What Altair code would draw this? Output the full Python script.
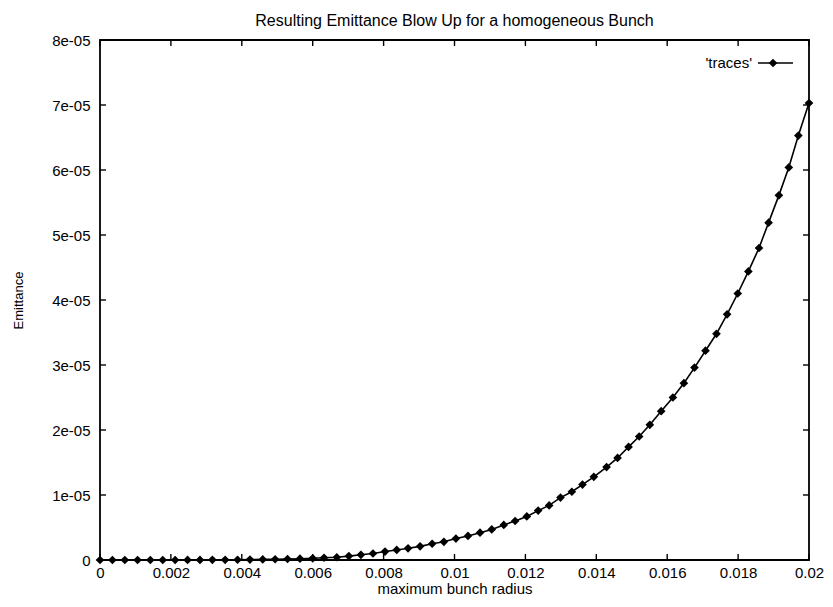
import altair as alt
import pandas as pd

# Maximum bunch radius (m) and resulting emittance
radius = [
    0.0, 0.00035, 0.00070, 0.00106, 0.00142, 0.00177, 0.00212, 0.00247, 0.00282, 0.00317,
    0.00353, 0.00388, 0.00423, 0.00459, 0.00494, 0.00529, 0.00564, 0.00600, 0.00632, 0.00668,
    0.00702, 0.00736, 0.00770, 0.00804, 0.00837, 0.00869, 0.00903, 0.00937, 0.00970, 0.01004,
    0.01038, 0.01072, 0.01105, 0.01139, 0.01171, 0.01204, 0.01236, 0.01267, 0.01299, 0.01331,
    0.01361, 0.01393, 0.01429, 0.01460, 0.01491, 0.01521, 0.01551, 0.01583, 0.01616, 0.01647,
    0.01677, 0.01708, 0.01739, 0.01769, 0.01799, 0.01829, 0.01859, 0.01886, 0.01915, 0.01943,
    0.01970, 0.02000,
]
emittance = [
    0.0, 0.0, 2e-10, 5e-10, 1e-9, 2e-9, 4e-9, 7e-9, 1.2e-8, 2e-8,
    3e-8, 4e-8, 6e-8, 9e-8, 1.2e-7, 1.6e-7, 2e-7, 2.6e-7, 3.4e-7, 4.3e-7,
    6e-7, 8e-7, 1.0e-6, 1.3e-6, 1.55e-6, 1.8e-6, 2.1e-6, 2.5e-6, 2.8e-6, 3.3e-6,
    3.7e-6, 4.2e-6, 4.7e-6, 5.4e-6, 6.0e-6, 6.7e-6, 7.6e-6, 8.4e-6, 9.6e-6, 1.05e-5,
    1.16e-5, 1.28e-5, 1.43e-5, 1.57e-5, 1.74e-5, 1.90e-5, 2.08e-5, 2.29e-5, 2.50e-5, 2.72e-5,
    2.96e-5, 3.22e-5, 3.48e-5, 3.78e-5, 4.10e-5, 4.44e-5, 4.80e-5, 5.19e-5, 5.61e-5, 6.04e-5,
    6.53e-5, 7.03e-5,
]
x_ticks = [0.0, 0.002, 0.004, 0.006, 0.008, 0.01, 0.012, 0.014, 0.016, 0.018, 0.02]
y_ticks = [0.0, 1e-05, 2e-05, 3e-05, 4e-05, 5e-05, 6e-05, 7e-05, 8e-05]
series_name = ["'traces'"]

W, H = 709, 520
FONT = "Liberation Sans"

df = pd.DataFrame({"r": radius, "eps": emittance})
xt = pd.DataFrame({"t": x_ticks})
yt = pd.DataFrame({"t": y_ticks})
leg = pd.DataFrame({"name": series_name})

x_scale = alt.Scale(domain=[0, 0.02], nice=False, zero=False)
y_scale = alt.Scale(domain=[0, 8e-05], nice=False, zero=False)

base = alt.Chart(df)

curve = base.mark_line(color="black", strokeWidth=1.6).encode(
    x=alt.X("r:Q", scale=x_scale,
            axis=alt.Axis(values=x_ticks, format=".3~f", title="maximum bunch radius",
                          ticks=False, domain=False, grid=False,
                          labelFont=FONT, labelFontSize=15, labelColor="black",
                          labelPadding=5, labelFlush=False,
                          titleFont=FONT, titleFontSize=15, titleFontWeight="normal",
                          titleColor="black", titlePadding=1)),
    y=alt.Y("eps:Q", scale=y_scale,
            axis=alt.Axis(values=y_ticks,
                          labelExpr="datum.value == 0 ? '0' : replace(format(datum.value, '.0e'), 'e-', 'e-0')",
                          title="Emittance", ticks=False, domain=False, grid=False,
                          labelFont=FONT, labelFontSize=15, labelColor="black",
                          labelPadding=10, labelFlush=False,
                          titleFont=FONT, titleFontSize=13, titleFontWeight="normal",
                          titleColor="black", titlePadding=26)),
)

points = base.mark_point(shape="diamond", filled=True, color="black", size=75, opacity=1).encode(
    x=alt.X("r:Q", scale=x_scale), y=alt.Y("eps:Q", scale=y_scale)
)

# Inward ticks on all four sides of the frame
tick_len = 6
bottom_ticks = alt.Chart(xt).mark_rule(color="black", strokeWidth=1.4).encode(
    x=alt.X("t:Q", scale=x_scale), y=alt.value(H), y2=alt.value(H - tick_len))
top_ticks = alt.Chart(xt).mark_rule(color="black", strokeWidth=1.4).encode(
    x=alt.X("t:Q", scale=x_scale), y=alt.value(0), y2=alt.value(tick_len))
left_ticks = alt.Chart(yt).mark_rule(color="black", strokeWidth=1.4).encode(
    y=alt.Y("t:Q", scale=y_scale), x=alt.value(0), x2=alt.value(tick_len))
right_ticks = alt.Chart(yt).mark_rule(color="black", strokeWidth=1.4).encode(
    y=alt.Y("t:Q", scale=y_scale), x=alt.value(W), x2=alt.value(W - tick_len))

# Key in the upper right corner: label, then line sample with a diamond
leg_text = alt.Chart(leg).mark_text(align="right", baseline="middle", font=FONT,
                                    fontSize=15, color="black").encode(
    text="name:N", x=alt.value(652), y=alt.value(23))
leg_line = alt.Chart(leg).mark_rule(color="black", strokeWidth=1.6).encode(
    x=alt.value(658), x2=alt.value(693), y=alt.value(23))
leg_pt = alt.Chart(leg).mark_point(shape="diamond", filled=True, color="black",
                                   size=75, opacity=1).encode(
    x=alt.value(673), y=alt.value(23))

chart = alt.layer(
    curve, points, bottom_ticks, top_ticks, left_ticks, right_ticks,
    leg_text, leg_line, leg_pt,
).properties(
    width=W, height=H,
    title=alt.TitleParams("Resulting Emittance Blow Up for a homogeneous Bunch",
                          font=FONT, fontSize=16, fontWeight="normal", color="black",
                          anchor="middle", offset=4),
    autosize=alt.AutoSizeParams(type="none"),
    padding={"left": 100, "top": 40, "right": 24, "bottom": 47},
    background="white",
).configure_view(stroke="black", strokeWidth=1.8)

chart.save("out.html", embed_options={"renderer": "svg", "actions": False})
